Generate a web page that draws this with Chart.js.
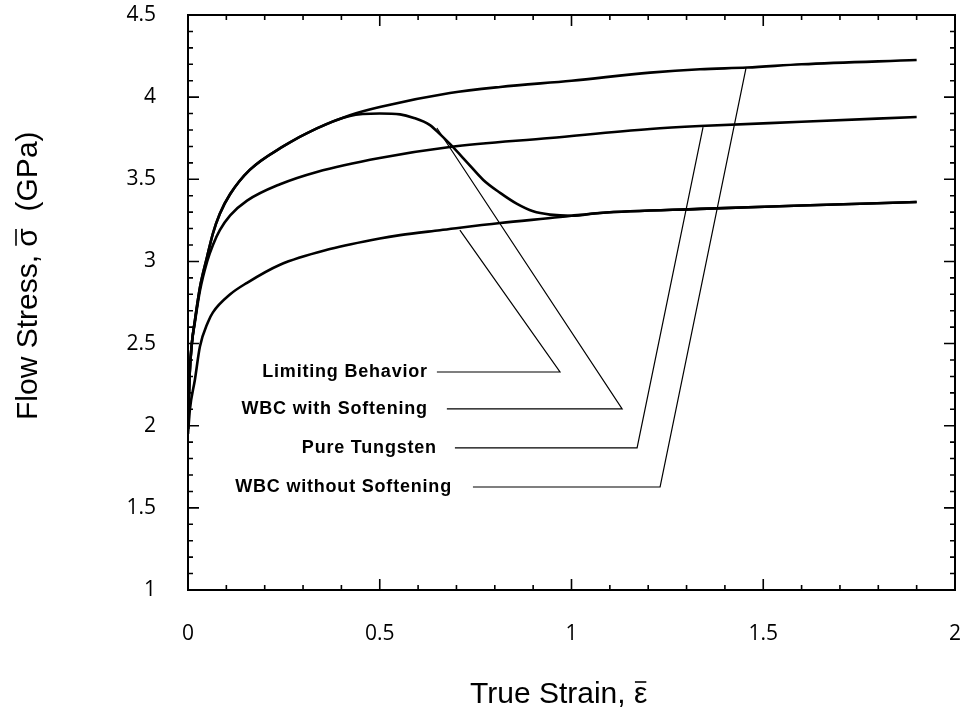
<!DOCTYPE html>
<html>
<head>
<meta charset="utf-8">
<script src="https://cdn.jsdelivr.net/npm/chart.js@4.4.1/dist/chart.umd.min.js"></script>
<style>
  html, body { margin: 0; padding: 0; background: #fff; }
  #wrap { width: 967px; height: 712px; }
</style>
</head>
<body>
<div id="wrap"><canvas id="flow_chart"></canvas></div>
<script>
// strain / stress
var wNoSoftX = [0, 0.004, 0.01, 0.018, 0.031, 0.05, 0.065, 0.083, 0.11, 0.161, 0.248, 0.336, 0.422, 0.5, 0.683, 0.814, 1.0, 1.205, 1.335, 1.458, 1.6, 1.9];
var wNoSoftY = [1.98, 2.3, 2.5, 2.64, 2.84, 3.03, 3.17, 3.29, 3.41, 3.557, 3.7, 3.81, 3.89, 3.94, 4.025, 4.062, 4.1, 4.149, 4.17, 4.18, 4.2, 4.226];

var tungX = [0, 0.004, 0.01, 0.018, 0.031, 0.05, 0.065, 0.083, 0.11, 0.154, 0.24, 0.336, 0.5, 0.683, 0.944, 1.205, 1.335, 1.6, 1.9];
var tungY = [1.98, 2.3, 2.5, 2.63, 2.82, 3.0, 3.1, 3.19, 3.28, 3.37, 3.47, 3.545, 3.63, 3.697, 3.751, 3.806, 3.824, 3.85, 3.879];

var limitX = [0, 0.005, 0.018, 0.031, 0.052, 0.065, 0.11, 0.154, 0.24, 0.37, 0.5, 0.553, 0.657, 0.814, 0.97, 1.0, 1.074, 1.335, 1.6, 1.9];
var limitY = [1.95, 2.1, 2.28, 2.48, 2.63, 2.69, 2.8, 2.87, 2.98, 3.075, 3.14, 3.16, 3.19, 3.234, 3.27, 3.278, 3.295, 3.32, 3.34, 3.362];

var wSoftX = [0, 0.004, 0.01, 0.018, 0.031, 0.05, 0.065, 0.083, 0.11, 0.161, 0.248, 0.336, 0.422, 0.5, 0.553, 0.587, 0.631, 0.657, 0.683, 0.727, 0.77, 0.814, 0.858, 0.9, 0.944, 1.0, 1.074, 1.335, 1.6, 1.9];
var wSoftY = [1.98, 2.3, 2.5, 2.64, 2.84, 3.03, 3.17, 3.29, 3.41, 3.557, 3.7, 3.81, 3.885, 3.9, 3.895, 3.875, 3.83, 3.775, 3.715, 3.605, 3.496, 3.417, 3.35, 3.305, 3.285, 3.278, 3.295, 3.32, 3.34, 3.362];

// callout leaders: start, elbow, tip on curve
var calloutNames = ['Limiting Behavior', 'WBC with Softening', 'Pure Tungsten', 'WBC without Softening'];
var calloutX = [[0.649, 0.97, 0.709], [0.675, 1.132, 0.649], [0.696, 1.171, 1.343], [0.743, 1.231, 1.455]];
var calloutY = [[2.327, 2.327, 3.191], [2.102, 2.102, 3.812], [1.865, 1.865, 3.818], [1.627, 1.627, 4.177]];

var xTicks = [0, 0.5, 1, 1.5, 2];
var yTicks = [1, 1.5, 2, 2.5, 3, 3.5, 4, 4.5];

function pts(xs, ys) {
    return xs.map(function(x, i) { return { x: x, y: ys[i] }; });
}

var datasets = [];
[[wNoSoftX, wNoSoftY], [tungX, tungY], [limitX, limitY], [wSoftX, wSoftY]].forEach(function(s) {
    datasets.push({
        data: pts(s[0], s[1]),
        borderColor: '#000',
        borderWidth: 2.6,
        pointRadius: 0,
        cubicInterpolationMode: 'monotone',
        fill: false
    });
});
calloutX.forEach(function(xs, i) {
    datasets.push({
        data: pts(xs, calloutY[i]),
        borderColor: '#000',
        borderWidth: 1.2,
        pointRadius: 0,
        tension: 0,
        fill: false
    });
});

// text with a bar over one symbol
function barText(ctx, before, sym, after, x, y) {
    ctx.fillText(before, x, y);
    var w1 = ctx.measureText(before).width;
    ctx.fillText(sym, x + w1, y);
    var ws = ctx.measureText(sym).width;
    ctx.fillText(after, x + w1 + ws, y);
    ctx.beginPath();
    ctx.lineWidth = 1.6;
    ctx.moveTo(x + w1 + 1, y - 21);
    ctx.lineTo(x + w1 + ws - 1, y - 21);
    ctx.stroke();
}

// frame, inward ticks, callout text, axis titles
var decorPlugin = {
    id: 'decor',
    afterDraw: function(chart) {
        var ctx = chart.ctx;
        var a = chart.chartArea;
        var xs = chart.scales.x, ys = chart.scales.y;
        ctx.save();
        ctx.strokeStyle = '#000';
        ctx.lineWidth = 2;
        ctx.strokeRect(a.left, a.top, a.right - a.left, a.bottom - a.top);

        ctx.lineWidth = 1.6;
        ctx.beginPath();
        for (var i = 1; i < 20; i++) {
            var px = xs.getPixelForValue(i / 10);
            var len = (i % 5 === 0) ? 11 : 5;
            ctx.moveTo(px, a.bottom); ctx.lineTo(px, a.bottom - len);
            ctx.moveTo(px, a.top); ctx.lineTo(px, a.top + len);
        }
        for (var j = 11; j < 45; j++) {
            var py = ys.getPixelForValue(j / 10);
            var l2 = (j % 5 === 0) ? 11 : 5;
            ctx.moveTo(a.left, py); ctx.lineTo(a.left + l2, py);
            ctx.moveTo(a.right, py); ctx.lineTo(a.right - l2, py);
        }
        ctx.stroke();

        ctx.fillStyle = '#000';
        ctx.font = 'bold 18px "Liberation Sans", Arial, sans-serif';
        ctx.letterSpacing = '0.8px';
        ctx.textAlign = 'right';
        ctx.textBaseline = 'middle';
        var gaps = [9, 19, 18, 21];
        calloutNames.forEach(function(name, k) {
            var tx = xs.getPixelForValue(calloutX[k][0]) - gaps[k];
            var ty = ys.getPixelForValue(calloutY[k][0]);
            ctx.fillText(name, tx, ty);
        });
        ctx.letterSpacing = '0px';

        ctx.font = '30px "Liberation Sans", Arial, sans-serif';
        ctx.textAlign = 'left';
        ctx.textBaseline = 'alphabetic';
        barText(ctx, 'True Strain, ', '\u03B5', '', 470, 703);
        ctx.translate(37, 420);
        ctx.rotate(-Math.PI / 2);
        barText(ctx, 'Flow Stress, ', '\u03C3', '  (GPa)', 0, 0);
        ctx.restore();
    }
};

var mychart = document.getElementById('flow_chart').getContext('2d');
new Chart(mychart, {
    type: 'line',
    data: { datasets: datasets },
    options: {
        responsive: true,
        maintainAspectRatio: false,
        animation: false,
        layout: { autoPadding: false, padding: { left: 0, right: 12, top: 15, bottom: 0 } },
        plugins: { legend: { display: false }, tooltip: { enabled: false } },
        scales: {
            x: {
                type: 'linear',
                min: 0, max: 2,
                afterBuildTicks: function(s) { s.ticks = xTicks.map(function(v) { return { value: v }; }); },
                afterFit: function(s) {
                    s.height = 122;
                    s.paddingLeft = 0; s.paddingRight = 0; s.paddingTop = 0; s.paddingBottom = 0;
                },
                grid: { display: false, drawTicks: false },
                border: { display: false },
                ticks: {
                    padding: 31, color: '#000', font: { family: '"Open Sans"', size: 21 },
                    callback: function(v) { return String(v); }
                }
            },
            y: {
                type: 'linear',
                min: 1, max: 4.5,
                afterBuildTicks: function(s) { s.ticks = yTicks.map(function(v) { return { value: v }; }); },
                afterFit: function(s) {
                    s.width = 188;
                    s.paddingLeft = 0; s.paddingRight = 0; s.paddingTop = 0; s.paddingBottom = 0;
                },
                grid: { display: false, drawTicks: false },
                border: { display: false },
                ticks: {
                    padding: 32, color: '#000', font: { family: '"Open Sans"', size: 21 },
                    callback: function(v) { return String(v); }
                }
            }
        }
    },
    plugins: [decorPlugin]
});
</script>
</body>
</html>
